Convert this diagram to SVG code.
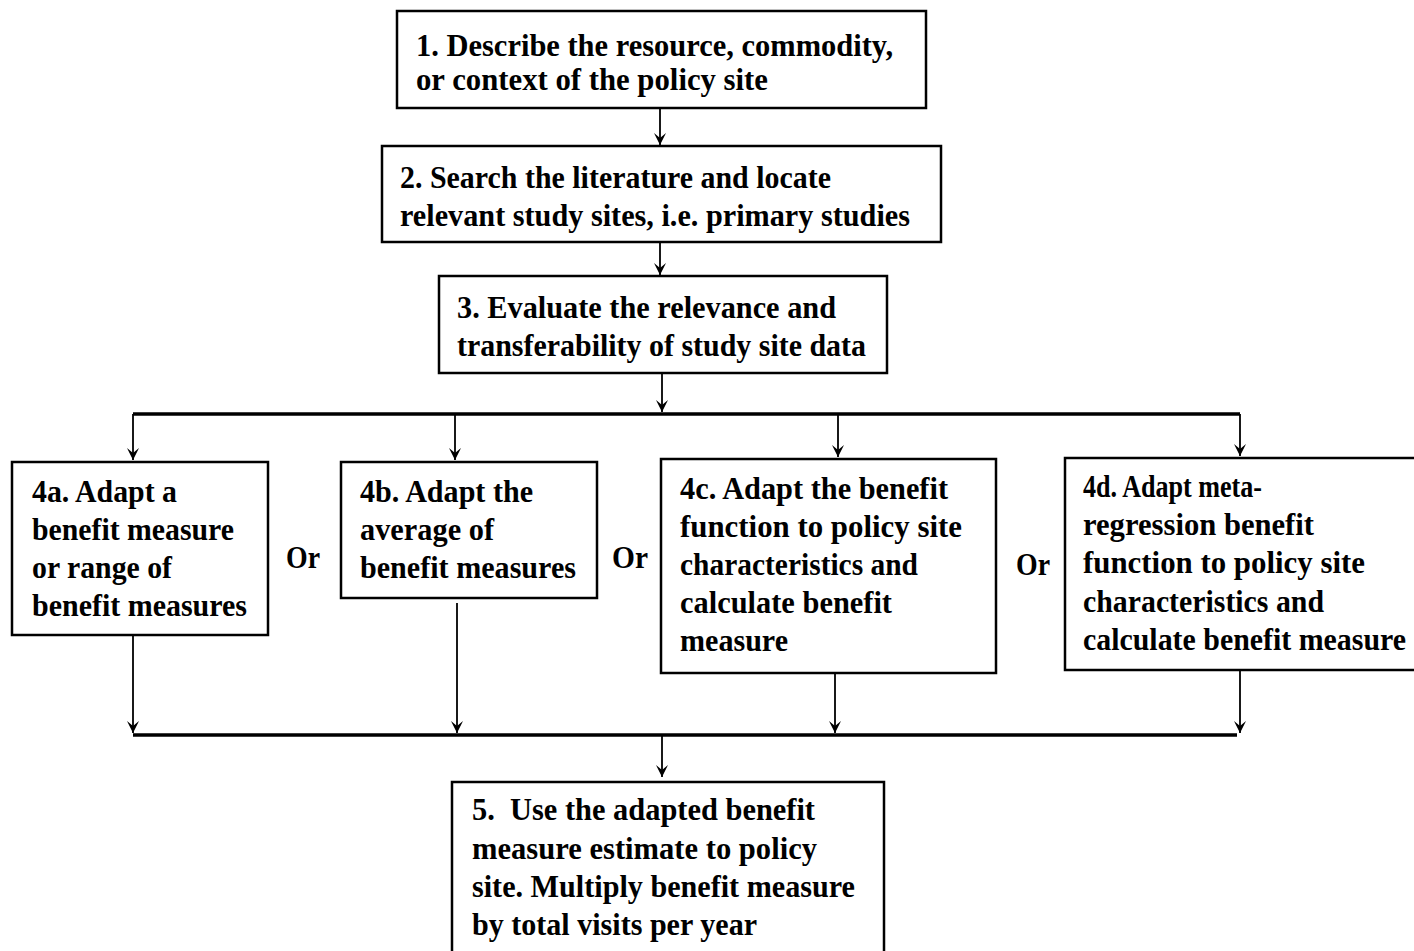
<svg xmlns="http://www.w3.org/2000/svg" width="1414" height="951" viewBox="0 0 1414 951">
<style>
.box{fill:#fff;stroke:#000;stroke-width:2.5}
.t{font-family:"Liberation Serif","Times New Roman",serif;font-weight:bold;font-size:32px;fill:#000}
.c{stroke:#000;stroke-width:1.8;fill:none}
.bus{stroke:#000;stroke-width:3.5;fill:none}
</style>
<defs>
<marker id="ad" viewBox="0 0 12 14" refX="6" refY="14" markerWidth="12" markerHeight="14" markerUnits="userSpaceOnUse" orient="0">
<path d="M0,2 L6,14 L12,2 L6,7 Z" fill="#000"/>
</marker>
</defs>
<rect width="1414" height="951" fill="#fff"/>
<g id="connectors">
<line class="c" x1="660" y1="108" x2="660" y2="145" marker-end="url(#ad)"/>
<line class="c" x1="660" y1="242" x2="660" y2="275" marker-end="url(#ad)"/>
<line class="c" x1="662" y1="373" x2="662" y2="412" marker-end="url(#ad)"/>
<line class="bus" x1="133" y1="414" x2="1240" y2="414"/>
<line class="c" x1="133" y1="414" x2="133" y2="460" marker-end="url(#ad)"/>
<line class="c" x1="455" y1="414" x2="455" y2="460" marker-end="url(#ad)"/>
<line class="c" x1="838" y1="414" x2="838" y2="457" marker-end="url(#ad)"/>
<line class="c" x1="1240" y1="414" x2="1240" y2="456" marker-end="url(#ad)"/>
<line class="c" x1="133" y1="635" x2="133" y2="733" marker-end="url(#ad)"/>
<line class="c" x1="457" y1="603" x2="457" y2="733" marker-end="url(#ad)"/>
<line class="c" x1="835" y1="673" x2="835" y2="733" marker-end="url(#ad)"/>
<line class="c" x1="1240" y1="670" x2="1240" y2="733" marker-end="url(#ad)"/>
<line class="bus" x1="133" y1="735" x2="1237" y2="735"/>
<line class="c" x1="662" y1="735" x2="662" y2="777" marker-end="url(#ad)"/>
</g>
<g id="n1">
<rect class="box" x="397" y="11" width="529" height="97"/>
<text class="t" x="416" y="56" textLength="477" lengthAdjust="spacingAndGlyphs">1. Describe the resource, commodity,</text>
<text class="t" x="416" y="90" textLength="352" lengthAdjust="spacingAndGlyphs">or context of the policy site</text>
</g>
<g id="n2">
<rect class="box" x="382" y="146" width="559" height="96"/>
<text class="t" x="400" y="188" textLength="431" lengthAdjust="spacingAndGlyphs">2. Search the literature and locate</text>
<text class="t" x="400" y="226" textLength="510" lengthAdjust="spacingAndGlyphs">relevant study sites, i.e. primary studies</text>
</g>
<g id="n3">
<rect class="box" x="439" y="276" width="448" height="97"/>
<text class="t" x="457" y="318" textLength="379" lengthAdjust="spacingAndGlyphs">3. Evaluate the relevance and</text>
<text class="t" x="457" y="356" textLength="409" lengthAdjust="spacingAndGlyphs">transferability of study site data</text>
</g>
<g id="n4a">
<rect class="box" x="12" y="462" width="256" height="173"/>
<text class="t" x="32" y="502" textLength="145" lengthAdjust="spacingAndGlyphs">4a. Adapt a</text>
<text class="t" x="32" y="540" textLength="202" lengthAdjust="spacingAndGlyphs">benefit measure</text>
<text class="t" x="32" y="578" textLength="140" lengthAdjust="spacingAndGlyphs">or range of</text>
<text class="t" x="32" y="616" textLength="215" lengthAdjust="spacingAndGlyphs">benefit measures</text>
</g>
<g id="n4b">
<rect class="box" x="341" y="462" width="256" height="136"/>
<text class="t" x="360" y="502" textLength="173" lengthAdjust="spacingAndGlyphs">4b. Adapt the</text>
<text class="t" x="360" y="540" textLength="134" lengthAdjust="spacingAndGlyphs">average of</text>
<text class="t" x="360" y="578" textLength="216" lengthAdjust="spacingAndGlyphs">benefit measures</text>
</g>
<g id="n4c">
<rect class="box" x="661" y="459" width="335" height="214"/>
<text class="t" x="680" y="499" textLength="268" lengthAdjust="spacingAndGlyphs">4c. Adapt the benefit</text>
<text class="t" x="680" y="537" textLength="282" lengthAdjust="spacingAndGlyphs">function to policy site</text>
<text class="t" x="680" y="575" textLength="238" lengthAdjust="spacingAndGlyphs">characteristics and</text>
<text class="t" x="680" y="613" textLength="212" lengthAdjust="spacingAndGlyphs">calculate benefit</text>
<text class="t" x="680" y="651" textLength="108" lengthAdjust="spacingAndGlyphs">measure</text>
</g>
<g id="n4d">
<rect class="box" x="1065" y="458" width="360" height="212"/>
<text class="t" x="1083" y="497" textLength="179" lengthAdjust="spacingAndGlyphs">4d. Adapt meta-</text>
<text class="t" x="1083" y="535" textLength="231" lengthAdjust="spacingAndGlyphs">regression benefit</text>
<text class="t" x="1083" y="573" textLength="282" lengthAdjust="spacingAndGlyphs">function to policy site</text>
<text class="t" x="1083" y="612" textLength="241" lengthAdjust="spacingAndGlyphs">characteristics and</text>
<text class="t" x="1083" y="650" textLength="323" lengthAdjust="spacingAndGlyphs">calculate benefit measure</text>
</g>
<g id="or-labels">
<text class="t" x="286" y="568" textLength="34" lengthAdjust="spacingAndGlyphs">Or</text>
<text class="t" x="612" y="568" textLength="36" lengthAdjust="spacingAndGlyphs">Or</text>
<text class="t" x="1016" y="575" textLength="34" lengthAdjust="spacingAndGlyphs">Or</text>
</g>
<g id="n5">
<rect class="box" x="452" y="782" width="432" height="180"/>
<text class="t" x="472" y="820" textLength="343" lengthAdjust="spacingAndGlyphs" xml:space="preserve">5.  Use the adapted benefit</text>
<text class="t" x="472" y="859" textLength="345" lengthAdjust="spacingAndGlyphs">measure estimate to policy</text>
<text class="t" x="472" y="897" textLength="383" lengthAdjust="spacingAndGlyphs">site. Multiply benefit measure</text>
<text class="t" x="472" y="935" textLength="285" lengthAdjust="spacingAndGlyphs">by total visits per year</text>
</g>
</svg>
